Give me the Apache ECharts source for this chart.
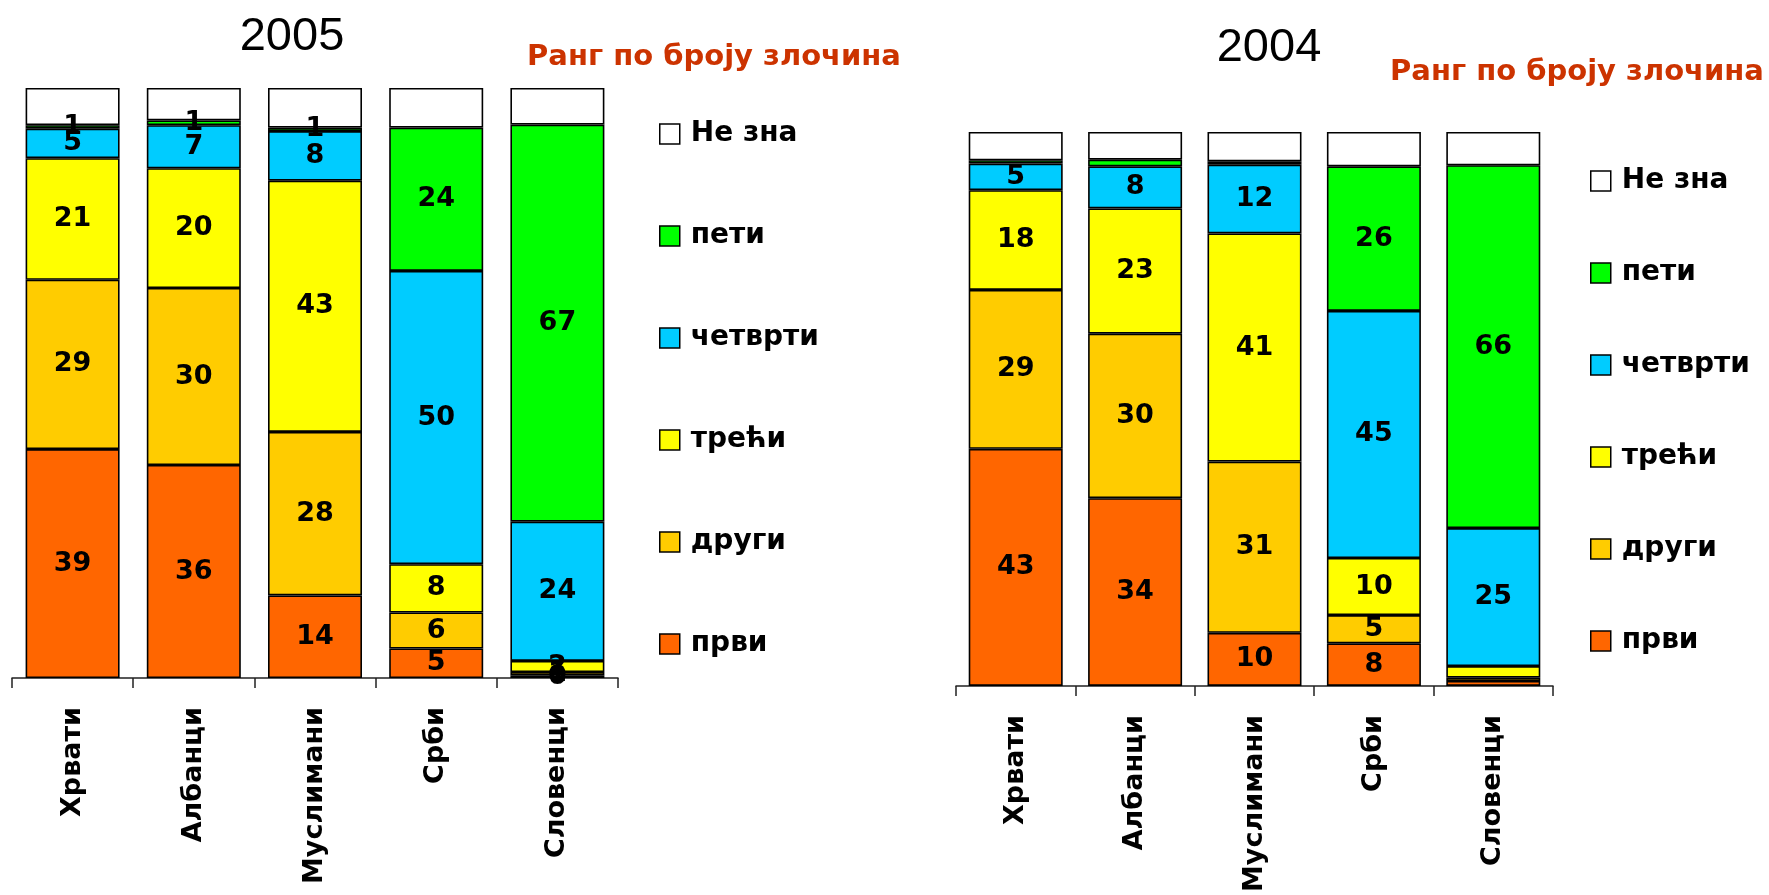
<!DOCTYPE html>
<html>
<head>
<meta charset="utf-8">
<script src="https://cdn.jsdelivr.net/npm/echarts@6/dist/echarts.min.js"></script>
<style>
  html, body { margin: 0; padding: 0; background: #fff; }
  #chart { width: 1769px; height: 895px; }
</style>
</head>
<body>
<div id="chart"></div>
<script>
// категорије и рангови
const categories = ['Хрвати', 'Албанци', 'Муслимани', 'Срби', 'Словенци'];
const rankNames = ['први', 'други', 'трећи', 'четврти', 'пети', 'Не зна'];
const rankColors = ['#FF6600', '#FFCC00', '#FFFF00', '#00CCFF', '#00FF00', '#FFFFFF'];

// 2005 (проценти, редом по категоријама)
const prvi2005 = [38.8, 36.1, 14.0, 5.0, 0.4];
const drugi2005 = [28.7, 30.0, 27.7, 6.1, 0.6];
const treci2005 = [20.6, 20.3, 42.6, 8.2, 1.9];
const cetvrti2005 = [5.0, 7.3, 8.4, 49.7, 23.6];
const peti2005 = [0.6, 0.8, 0.6, 24.3, 67.3];
const neZna2005 = [6.3, 5.5, 6.7, 6.7, 6.2];

// 2004
const prvi2004 = [42.8, 33.9, 9.6, 7.7, 0.9];
const drugi2004 = [28.7, 29.7, 30.9, 5.1, 0.6];
const treci2004 = [18.0, 22.6, 41.2, 10.3, 2.1];
const cetvrti2004 = [4.8, 7.6, 12.4, 44.6, 24.9];
const peti2004 = [0.6, 1.2, 0.6, 26.1, 65.5];
const neZna2004 = [5.1, 5.0, 5.3, 6.2, 6.0];

const data2005 = [prvi2005, drugi2005, treci2005, cetvrti2005, peti2005, neZna2005];
const data2004 = [prvi2004, drugi2004, treci2004, cetvrti2004, peti2004, neZna2004];

const chart = echarts.init(document.getElementById('chart'));

const FONT = '"DejaVu Sans", Verdana, sans-serif';

function makeSeries(data, gridIndex, minLabel) {
  return data.map((values, i) => ({
    name: rankNames[i],
    type: 'bar',
    stack: 'rank' + gridIndex,
    xAxisIndex: gridIndex,
    yAxisIndex: gridIndex,
    barWidth: 94,
    data: values,
    itemStyle: { color: rankColors[i], borderColor: '#000', borderWidth: 1.6 },
    label: {
      show: i < 5,
      position: 'inside',
      fontFamily: FONT,
      fontWeight: 'bold',
      fontSize: 27,
      color: '#000',
      formatter: (p) => (p.value < minLabel ? '' : String(Math.round(p.value)))
    },
    emphasis: { disabled: true }
  }));
}

function xAxisFor(gridIndex) {
  return {
    type: 'category',
    gridIndex: gridIndex,
    data: categories,
    axisLine: { lineStyle: { color: '#222', width: 1.5 } },
    axisTick: { show: true, length: 10, lineStyle: { color: '#222', width: 1.5 } },
    axisLabel: {
      rotate: 90,
      margin: 29,
      fontFamily: FONT,
      fontWeight: 'bold',
      fontSize: 27,
      color: '#000'
    }
  };
}

function yAxisFor(gridIndex) {
  return { type: 'value', gridIndex: gridIndex, min: 0, max: 100, show: false };
}

function legendFor(left, top, gap) {
  return {
    orient: 'vertical',
    left: left,
    top: top,
    icon: 'rect',
    itemWidth: 20,
    itemHeight: 20,
    itemGap: gap,
    selectedMode: false,
    data: rankNames.slice().reverse(),
    itemStyle: { borderColor: '#000', borderWidth: 1.5 },
    textStyle: {
      fontFamily: FONT,
      fontWeight: 'bold',
      fontSize: 28,
      lineHeight: 20,
      color: '#000',
      padding: [0, 0, 0, 6]
    }
  };
}

const option = {
  animation: false,
  grid: [
    { left: 12, top: 88, width: 606, height: 590 },
    { left: 956, top: 132, width: 597, height: 570 }
  ],
  xAxis: [xAxisFor(0), xAxisFor(1)],
  yAxis: [yAxisFor(0), yAxisFor(1)],
  legend: [legendFor(654, 115, 74), legendFor(1585, 162, 64)],
  graphic: [
    { type: 'text', x: 292, y: 37, style: { text: '2005', font: '47px "Liberation Sans", Arial, sans-serif', fill: '#000', align: 'center', verticalAlign: 'middle' } },
    { type: 'text', x: 1269, y: 48, style: { text: '2004', font: '47px "Liberation Sans", Arial, sans-serif', fill: '#000', align: 'center', verticalAlign: 'middle' } },
    { type: 'text', x: 714, y: 57, style: { text: 'Ранг по броју злочина', font: 'bold 29px "DejaVu Sans", sans-serif', fill: '#CC3300', align: 'center', verticalAlign: 'middle' } },
    { type: 'text', x: 1577, y: 72, style: { text: 'Ранг по броју злочина', font: 'bold 29px "DejaVu Sans", sans-serif', fill: '#CC3300', align: 'center', verticalAlign: 'middle' } }
  ],
  series: [...makeSeries(data2005, 0, 0), ...makeSeries(data2004, 1, 3)]
};

chart.setOption(option);
</script>
</body>
</html>
